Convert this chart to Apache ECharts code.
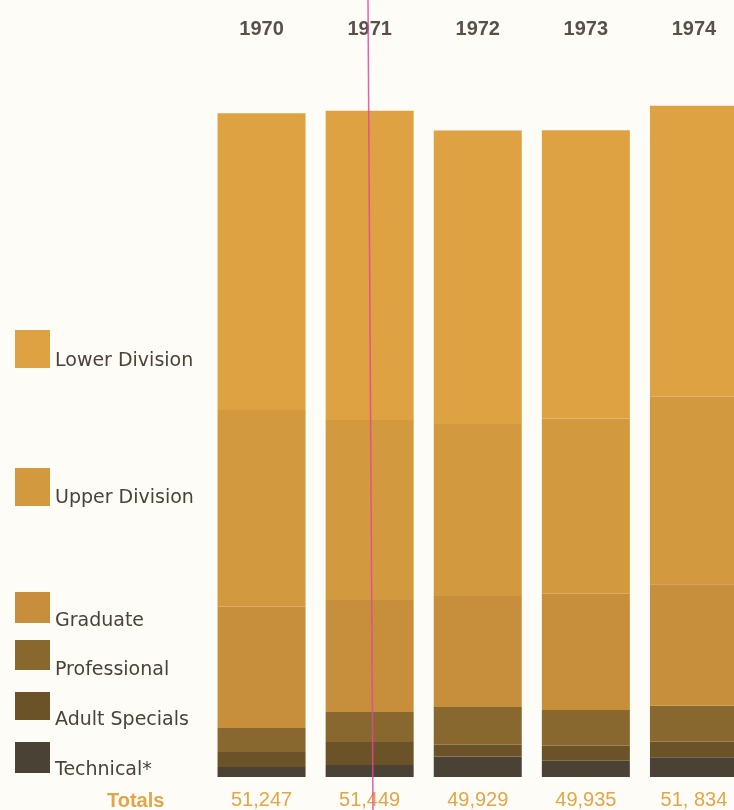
<!DOCTYPE html>
<html>
<head>
<meta charset="utf-8">
<script src="https://cdn.jsdelivr.net/npm/echarts@6/dist/echarts.min.js"></script>
<style>
  html, body { margin: 0; padding: 0; background: #fdfcf6; overflow: hidden; }
  /* the plate runs a little past the right edge of the page */
  #chart { width: 748px; height: 810px; }
</style>
</head>
<body>
<div id="chart"></div>
<script>
// Enrollment by level, fall term
const years = ['1970', '1971', '1972', '1973', '1974'];
const totalLabels = ['51,247', '51,449', '49,929', '49,935', '51, 834'];

const lowerDivision  = [22914, 23882, 22675, 22260, 22478];
const upperDivision  = [15173, 13899, 13278, 13528, 14476];
const graduate       = [9367, 8654, 8565, 8967, 9371];
const professional   = [1858, 2304, 2927, 2760, 2796];
const adultSpecials  = [1161, 1789, 908, 1160, 1189];
const technical      = [774, 921, 1576, 1260, 1524];

const levelNames = ['Lower Division', 'Upper Division', 'Graduate', 'Professional', 'Adult Specials', 'Technical*'];
const levelColors = ['#dfa243', '#d3993e', '#c78f3b', '#88682f', '#6c5227', '#4b4236'];

// bottom-up stacking order
const stackOrder = [
  [5, technical],
  [4, adultSpecials],
  [3, professional],
  [2, graduate],
  [1, upperDivision],
  [0, lowerDivision]
];

const series = stackOrder.map(([idx, values]) => ({
  name: levelNames[idx],
  type: 'bar',
  stack: 'enrollment',
  barWidth: 88,
  xAxisIndex: 0,
  data: values,
  itemStyle: { color: levelColors[idx] },
  emphasis: { disabled: true }
}));

// per-entry legend placement: swatch centre, swatch height, text drop below centre
const legendSlots = [
  { mid: 349, h: 38, drop: 12 },
  { mid: 487, h: 38, drop: 11 },
  { mid: 607.5, h: 31, drop: 13.5 },
  { mid: 655, h: 30, drop: 15 },
  { mid: 706, h: 28, drop: 14 },
  { mid: 757.5, h: 31, drop: 12.5 }
];

// an empty first line pushes each label below its swatch centre
const legends = levelNames.map((name, i) => {
  const s = legendSlots[i];
  const lh = s.drop * 2;
  return {
    data: [name],
    left: 15,
    top: s.mid - lh,
    padding: 0,
    orient: 'vertical',
    icon: 'rect',
    itemWidth: 35,
    itemHeight: s.h,
    selectedMode: false,
    formatter: n => '\n' + n,
    textStyle: {
      fontFamily: 'DejaVu Sans',
      fontSize: 19,
      lineHeight: lh,
      color: '#4b4238'
    }
  };
});

const chart = echarts.init(document.getElementById('chart'), null, { renderer: 'canvas' });

chart.setOption({
  backgroundColor: '#fdfcf6',
  animation: false,
  legend: legends,
  grid: { left: 207.5, right: 0, top: 0, bottom: 32 },
  xAxis: [
    {
      type: 'category',
      position: 'bottom',
      data: years,
      axisLine: { show: false },
      axisTick: { show: false },
      axisLabel: {
        margin: 13,
        fontFamily: 'Liberation Sans',
        fontSize: 20,
        color: '#e2a649',
        formatter: (v, i) => totalLabels[i]
      }
    },
    {
      type: 'category',
      position: 'top',
      offset: -42,
      data: years,
      axisLine: { show: false },
      axisTick: { show: false },
      axisLabel: {
        margin: 3,
        fontFamily: 'Liberation Sans',
        fontWeight: 'bold',
        fontSize: 20,
        color: '#5a5047'
      }
    }
  ],
  yAxis: {
    type: 'value',
    min: 0,
    max: 60000,
    show: false
  },
  graphic: [
    {
      type: 'text',
      left: 107,
      top: 791,
      style: {
        text: 'Totals',
        fontFamily: 'Liberation Sans',
        fontWeight: 'bold',
        fontSize: 20,
        fill: '#e2a649'
      }
    },
    {
      type: 'line',
      z: 100,
      shape: { x1: 368, y1: 0, x2: 373, y2: 810 },
      style: { stroke: '#e4479c', lineWidth: 1.5, opacity: 0.85 }
    }
  ],
  series: series
});
</script>
</body>
</html>
